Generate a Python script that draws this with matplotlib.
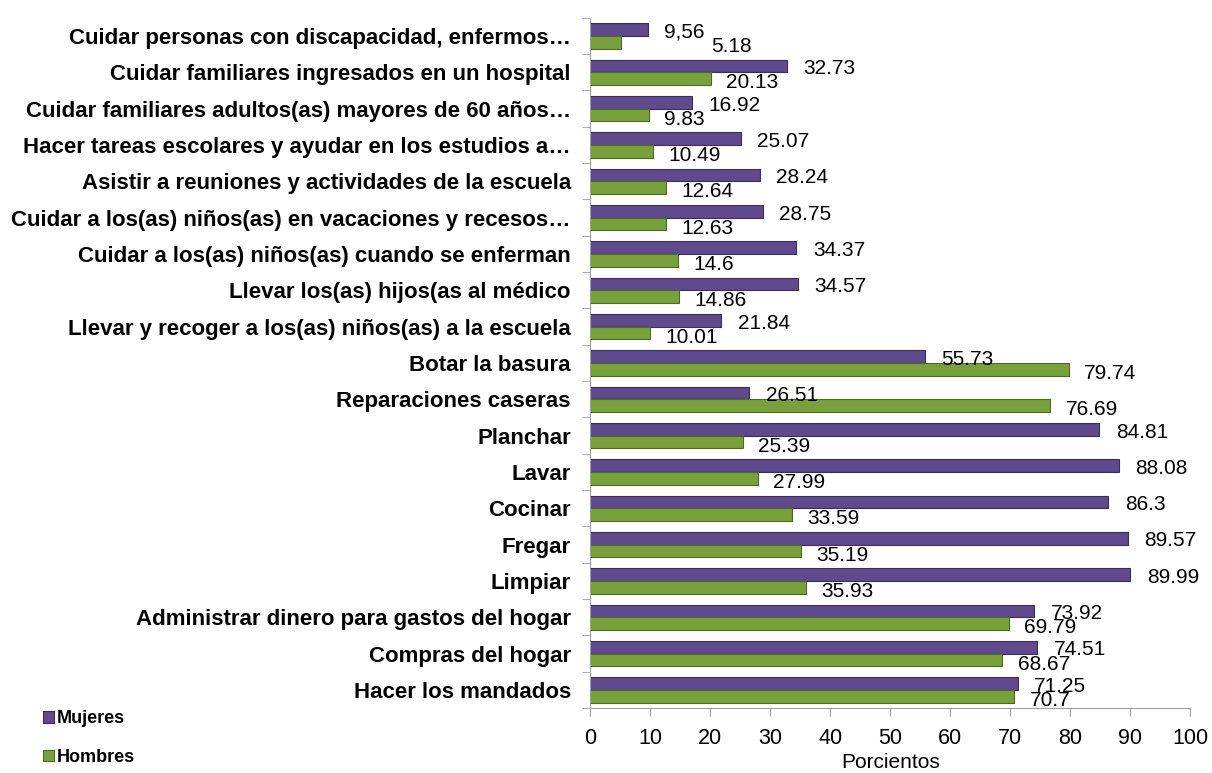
import numpy as np
import matplotlib.pyplot as plt

# Categories, top to bottom as in the chart
categorias = [
    "Cuidar personas con discapacidad, enfermos…",
    "Cuidar familiares ingresados en un hospital",
    "Cuidar familiares adultos(as) mayores de 60 años…",
    "Hacer tareas escolares y ayudar en los estudios a…",
    "Asistir a reuniones y actividades de la escuela",
    "Cuidar a los(as) niños(as) en vacaciones y recesos…",
    "Cuidar a los(as) niños(as) cuando se enferman",
    "Llevar los(as) hijos(as al médico",
    "Llevar y recoger a los(as) niños(as) a la escuela",
    "Botar la basura",
    "Reparaciones caseras",
    "Planchar",
    "Lavar",
    "Cocinar",
    "Fregar",
    "Limpiar",
    "Administrar dinero para gastos del hogar",
    "Compras del hogar",
    "Hacer los mandados",
]
mujeres = [9.56, 32.73, 16.92, 25.07, 28.24, 28.75, 34.37, 34.57, 21.84,
           55.73, 26.51, 84.81, 88.08, 86.3, 89.57, 89.99, 73.92, 74.51, 71.25]
hombres = [5.18, 20.13, 9.83, 10.49, 12.64, 12.63, 14.6, 14.86, 10.01,
           79.74, 76.69, 25.39, 27.99, 33.59, 35.19, 35.93, 69.79, 68.67, 70.7]
x_ticks = list(range(0, 101, 10))

PURPLE = "#5e4a8c"
GREEN = "#78a13b"

plt.rcParams['font.family'] = ['Liberation Sans', 'DejaVu Sans']

fig = plt.figure(figsize=(12.12, 7.73), dpi=100)
ax = fig.add_axes([0.487, 0.084, 0.495, 0.893])

n = len(categorias)
y = np.arange(n)[::-1]
h = 0.35
ax.barh(y + h / 2, mujeres, height=h, color=PURPLE, edgecolor="#3b2d5c",
        linewidth=0.8, label="Mujeres")
ax.barh(y - h / 2, hombres, height=h, color=GREEN, edgecolor="#4c6a22",
        linewidth=0.8, label="Hombres")

lab_m = [f"{v:g}" for v in mujeres]
lab_m[0] = "9,56"
lab_h = [f"{v:g}" for v in hombres]
for i in range(n):
    ax.annotate(lab_m[i], (mujeres[i], y[i] + h / 2), xytext=(12, -2),
                textcoords="offset points", va="center", ha="left", fontsize=15)
    dx = 65 if i == 0 else 11
    ax.annotate(lab_h[i], (hombres[i], y[i] - h / 2), xytext=(dx, -3),
                textcoords="offset points", va="center", ha="left", fontsize=15)

ax.set_xlim(0, 100)
ax.set_ylim(-0.5, n - 0.5)
ax.set_xticks(x_ticks)
ax.tick_params(axis="x", labelsize=15.5, length=6, color="#a0a0a0", pad=8)
ax.set_xlabel("Porcientos", fontsize=15, labelpad=3)

ax.set_yticks(y)
ax.set_yticklabels(categorias, fontsize=16, fontweight="bold")
ax.set_yticks(np.arange(-0.5, n, 1.0), minor=True)
ax.tick_params(axis="y", which="major", length=0, pad=14)
ax.tick_params(axis="y", which="minor", length=6, color="#a0a0a0")

for s in ["top", "right"]:
    ax.spines[s].set_visible(False)
ax.spines["left"].set_color("#a0a0a0")
ax.spines["bottom"].set_color("#a0a0a0")

handles, labels = ax.get_legend_handles_labels()
fig.legend(handles, labels, loc="lower left", bbox_to_anchor=(0.022, -0.012),
           frameon=False, handlelength=0.6, handleheight=0.6, handletextpad=0.15,
           labelspacing=1.2, prop={"weight": "bold", "size": 13})

fig.savefig("out.png", dpi=100)
